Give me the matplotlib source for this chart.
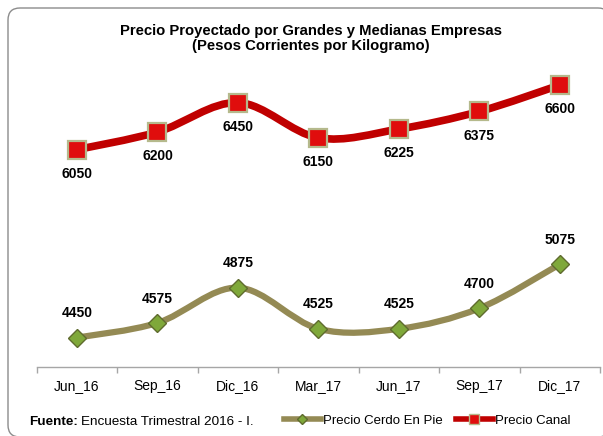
import matplotlib
matplotlib.use("Agg")
import matplotlib.pyplot as plt
import numpy as np
from matplotlib.lines import Line2D
from matplotlib.patches import FancyBboxPatch, PathPatch
from matplotlib.path import Path

plt.rcParams["font.family"] = ["Liberation Sans", "DejaVu Sans"]

periods = ["Jun_16", "Sep_16", "Dic_16", "Mar_17", "Jun_17", "Sep_17", "Dic_17"]
precio_cerdo = [4450, 4575, 4875, 4525, 4525, 4700, 5075]
precio_canal = [6050, 6200, 6450, 6150, 6225, 6375, 6600]

RED = "#c00000"
OLIVE = "#948a54"


def smooth_path(xs, ys):
    # curva suave tipo Excel (Catmull-Rom -> Bezier)
    pts = np.column_stack([xs, ys]).astype(float)
    ext = np.vstack([pts[0], pts, pts[-1]])
    verts = [pts[0]]
    codes = [Path.MOVETO]
    for i in range(len(pts) - 1):
        p0, p1, p2, p3 = ext[i], ext[i + 1], ext[i + 2], ext[i + 3]
        c1 = p1 + (p2 - p0) / 6.0
        c2 = p2 - (p3 - p1) / 6.0
        verts += [c1, c2, p2]
        codes += [Path.CURVE4] * 3
    return Path(verts, codes)


fig = plt.figure(figsize=(6.03, 4.36), dpi=100)

frame = FancyBboxPatch(
    (0.08, -0.01), 6.02, 4.29,
    boxstyle="round,pad=0,rounding_size=0.12",
    transform=fig.dpi_scale_trans,
    facecolor="white", edgecolor="#8c8c8c", linewidth=1.0, zorder=-1,
)
fig.patches.append(frame)

ax = fig.add_axes([0.0609, 0.1583, 0.9345, 0.7007])
ax.set_facecolor("none")

x = np.arange(len(periods))

ax.add_patch(PathPatch(smooth_path(x, precio_canal), fill=False,
                       edgecolor=RED, linewidth=5.5, capstyle="round", zorder=2))
ax.add_patch(PathPatch(smooth_path(x, precio_cerdo), fill=False,
                       edgecolor=OLIVE, linewidth=4.5, capstyle="round", zorder=2))

ax.plot(x, precio_canal, linestyle="none", marker="s", markersize=12.5,
        markerfacecolor="#e00d0d", markeredgecolor="#b5b98c",
        markeredgewidth=1.6, zorder=3)
ax.plot(x, precio_cerdo, linestyle="none", marker="D", markersize=9.5,
        markerfacecolor="#7fa83a", markeredgecolor="#5f6b2e",
        markeredgewidth=1.0, zorder=3)

for xi, v in zip(x, precio_canal):
    ax.annotate(f"{v}", (xi, v), xytext=(0, -17.5), textcoords="offset points",
                ha="center", va="center", fontsize=10, fontweight="bold")
for xi, v in zip(x, precio_cerdo):
    ax.annotate(f"{v}", (xi, v), xytext=(0, 17.5), textcoords="offset points",
                ha="center", va="center", fontsize=10, fontweight="bold")

ax.set_xlim(-0.5, len(periods) - 0.5)
ax.set_ylim(4200, 6800)

for side in ("left", "right", "top"):
    ax.spines[side].set_visible(False)
ax.spines["bottom"].set_color("#a6a6a6")
ax.spines["bottom"].set_linewidth(1.0)

ax.set_yticks([])
ax.set_xticks(x)
ax.set_xticklabels(periods, fontsize=10)
ax.tick_params(axis="x", which="major", length=0, pad=9)
ax.set_xticks(np.arange(-0.5, len(periods)), minor=True)
ax.tick_params(axis="x", which="minor", length=4, color="#a6a6a6", width=1.0)

fig.text(0.516, 1 - 30.7 / 436,
         "Precio Proyectado por Grandes y Medianas Empresas",
         ha="center", va="center", fontsize=10.7, fontweight="bold")
fig.text(0.516, 1 - 46 / 436,
         "(Pesos Corrientes por Kilogramo)",
         ha="center", va="center", fontsize=10.7, fontweight="bold")

t = fig.text(29 / 603, 1 - 421.7 / 436, "Fuente:", ha="left", va="center",
             fontsize=9.7, fontweight="bold")
fig.canvas.draw()
bb = t.get_window_extent()
fig.text(bb.x1 / fig.bbox.width + 0.006, 1 - 421.7 / 436,
         "Encuesta Trimestral 2016 - I.", ha="left", va="center", fontsize=9.7)

handles = [
    Line2D([], [], color=OLIVE, linewidth=4, marker="D", markersize=5,
           markerfacecolor="#7fa83a", markeredgecolor="#5f6b2e"),
    Line2D([], [], color=RED, linewidth=4, marker="s", markersize=7,
           markerfacecolor="#e00d0d", markeredgecolor="#b5b98c"),
]
fig.legend(handles, ["Precio Cerdo En Pie", "Precio Canal"],
           loc="center left", bbox_to_anchor=(284 / 603, 1 - 420.7 / 436),
           ncol=2, frameon=False, fontsize=9.5, handlelength=2.8,
           handletextpad=0.15, columnspacing=1.0, borderpad=0, borderaxespad=0)

fig.savefig("out.png", dpi=100)
